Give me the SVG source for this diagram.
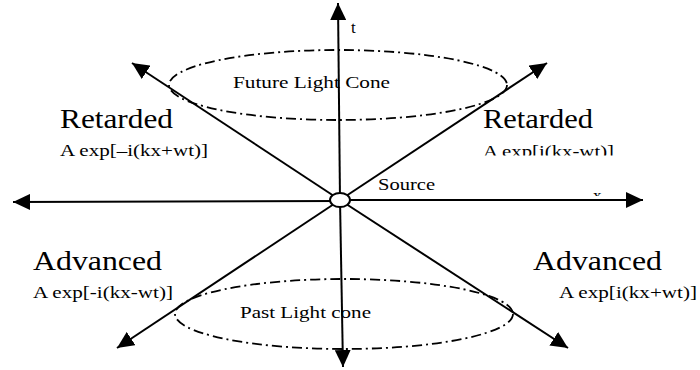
<svg xmlns="http://www.w3.org/2000/svg" width="700" height="370" viewBox="0 0 700 370" font-family="'Liberation Serif', 'Times New Roman', serif">
<style>
.ax{stroke:#000;stroke-width:2;fill:none;marker-end:url(#ah)}
.cone{stroke:#000;stroke-width:1.8;fill:none;stroke-dasharray:10,4,2,4}
text{font-family:'Liberation Serif', 'Times New Roman', serif;fill:#000}
.big{font-size:27px}
.f{font-size:17px}
.c{font-size:17px}
</style>
<defs>
<marker id="ah" markerUnits="userSpaceOnUse" markerWidth="18" markerHeight="16" refX="17" refY="8" orient="auto">
<path d="M0,0 L17,8 L0,16 z" fill="#000"/>
</marker>
<clipPath id="clipR"><rect x="470" y="100" width="200" height="55.5"/></clipPath>
<clipPath id="clipX"><rect x="580" y="180" width="40" height="16"/></clipPath>
</defs>
<rect width="700" height="370" fill="#fff"/>
<g id="cones">
<ellipse class="cone" cx="338" cy="85" rx="169" ry="35"/>
<ellipse class="cone" cx="344" cy="314" rx="169" ry="35"/>
</g>
<g id="connectors">
<line class="ax" x1="340" y1="200" x2="338" y2="3"/>
<line class="ax" x1="340" y1="200" x2="343" y2="367"/>
<line class="ax" x1="340" y1="201" x2="13" y2="202"/>
<line class="ax" x1="340" y1="200" x2="643" y2="200"/>
<line class="ax" x1="340" y1="200" x2="132" y2="63"/>
<line class="ax" x1="340" y1="200" x2="547" y2="63"/>
<line class="ax" x1="340" y1="200" x2="117" y2="348"/>
<line class="ax" x1="340" y1="200" x2="568" y2="348"/>
</g>
<g id="source">
<ellipse cx="340" cy="200" rx="10" ry="7" fill="#fff" stroke="#000" stroke-width="2"/>
<text class="f" x="378" y="190" textLength="57" lengthAdjust="spacingAndGlyphs">Source</text>
</g>
<g id="axis-labels">
<text class="f" x="351" y="33">t</text>
<g clip-path="url(#clipX)"><text class="f" x="593" y="201">x</text></g>
</g>
<g id="future-cone-label">
<text class="c" x="233" y="88" textLength="157" lengthAdjust="spacingAndGlyphs">Future Light Cone</text>
</g>
<g id="past-cone-label">
<text class="c" x="240" y="318" textLength="131" lengthAdjust="spacingAndGlyphs">Past Light cone</text>
</g>
<g id="retarded-left">
<text class="big" x="60" y="128" textLength="113" lengthAdjust="spacingAndGlyphs">Retarded</text>
<text class="f" x="60" y="156" textLength="148" lengthAdjust="spacingAndGlyphs">A exp[–i(kx+wt)]</text>
</g>
<g id="retarded-right" clip-path="url(#clipR)">
<text class="big" x="483" y="128" textLength="110" lengthAdjust="spacingAndGlyphs">Retarded</text>
<text class="f" x="483" y="157" textLength="131" lengthAdjust="spacingAndGlyphs">A exp[i(kx-wt)]</text>
</g>
<g id="advanced-left">
<text class="big" x="33" y="270" textLength="129" lengthAdjust="spacingAndGlyphs">Advanced</text>
<text class="f" x="33" y="298" textLength="140" lengthAdjust="spacingAndGlyphs">A exp[-i(kx-wt)]</text>
</g>
<g id="advanced-right">
<text class="big" x="533" y="270" textLength="129" lengthAdjust="spacingAndGlyphs">Advanced</text>
<text class="f" x="559" y="298" textLength="138" lengthAdjust="spacingAndGlyphs">A exp[i(kx+wt)]</text>
</g>
</svg>
